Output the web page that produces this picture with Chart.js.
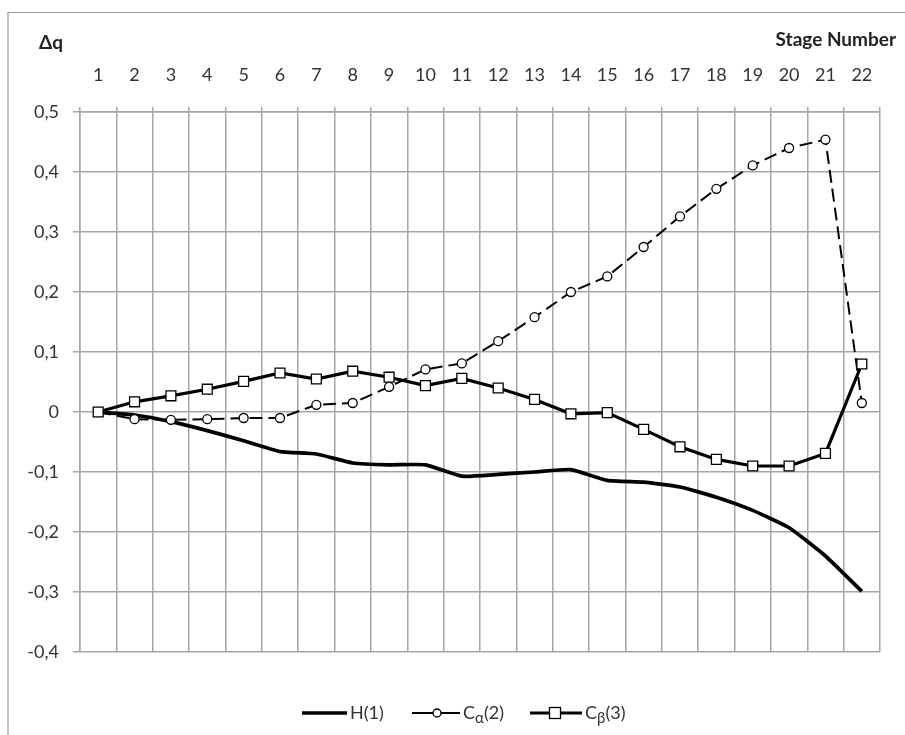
<!DOCTYPE html>
<html>
<head>
<meta charset="utf-8">
<script src="https://cdn.jsdelivr.net/npm/chart.js@4/dist/chart.umd.min.js"></script>
<style>
  html, body { margin: 0; padding: 0; background: #ffffff; }
  #wrap { width: 905px; height: 735px; position: relative; }
</style>
</head>
<body>
<div id="wrap"><canvas id="c" width="905" height="735"></canvas></div>
<script>
const stages = ['1','2','3','4','5','6','7','8','9','10','11','12','13','14','15','16','17','18','19','20','21','22'];
const seriesH = [0, -0.005, -0.016, -0.031, -0.048, -0.066, -0.07, -0.085, -0.088, -0.088, -0.107, -0.104, -0.1, -0.096, -0.114, -0.117, -0.125, -0.142, -0.164, -0.193, -0.24, -0.299];
const seriesCa = [0, -0.012, -0.013, -0.012, -0.01, -0.01, 0.012, 0.015, 0.042, 0.071, 0.081, 0.118, 0.158, 0.2, 0.226, 0.275, 0.326, 0.372, 0.411, 0.44, 0.454, 0.015];
const seriesCb = [0, 0.017, 0.027, 0.038, 0.051, 0.065, 0.055, 0.068, 0.058, 0.044, 0.056, 0.04, 0.021, -0.003, -0.001, -0.029, -0.058, -0.079, -0.09, -0.09, -0.069, 0.08];
const yTicks = [-0.4, -0.3, -0.2, -0.1, 0, 0.1, 0.2, 0.3, 0.4, 0.5];
const seriesNames = ['H(1)', 'Cα(2)', 'Cβ(3)'];

const FONT = 'Lato, "Open Sans", sans-serif';
const TEXT = '#333333';
const GRID = '#a6a6a6';

const decor = {
  id: 'decor',
  afterDraw(chart) {
    const ctx = chart.ctx;
    ctx.save();
    // frame (top and left)
    ctx.strokeStyle = '#9a9a9a';
    ctx.lineWidth = 1.2;
    ctx.beginPath();
    ctx.moveTo(8, 735); ctx.lineTo(8, 12.5); ctx.lineTo(905, 12.5);
    ctx.stroke();
    // axis titles
    ctx.fillStyle = '#222';
    ctx.font = 'bold 19px ' + FONT;
    ctx.textBaseline = 'middle';
    ctx.textAlign = 'left';
    ctx.fillText('Δq', 39, 43);
    ctx.textAlign = 'right';
    ctx.fillText('Stage Number', 896, 40);

    // legend
    const y = 713;
    ctx.textAlign = 'left';
    ctx.fillStyle = TEXT;
    const mainFont = '18px ' + FONT;
    const subFont = '15px ' + FONT;
    function drawName(name, x) {
      if (name.length > 1 && /[αβ]/.test(name[1])) {
        ctx.font = mainFont;
        ctx.fillText(name[0], x, y);
        x += ctx.measureText(name[0]).width;
        ctx.font = subFont;
        ctx.fillText(name[1], x, y + 5);
        x += ctx.measureText(name[1]).width;
        ctx.font = mainFont;
        ctx.fillText(name.slice(2), x, y);
      } else {
        ctx.font = mainFont;
        ctx.fillText(name, x, y);
      }
    }
    // H(1)
    ctx.strokeStyle = '#000'; ctx.lineWidth = 3.5; ctx.setLineDash([]);
    ctx.beginPath(); ctx.moveTo(302, y); ctx.lineTo(347, y); ctx.stroke();
    drawName(seriesNames[0], 350);
    // Ca
    ctx.strokeStyle = '#000'; ctx.lineWidth = 2;
    ctx.beginPath(); ctx.moveTo(412, y); ctx.lineTo(460, y); ctx.stroke();
    ctx.fillStyle = '#fff'; ctx.lineWidth = 1.3;
    ctx.beginPath(); ctx.arc(437, y, 4, 0, Math.PI * 2); ctx.fill(); ctx.stroke();
    ctx.fillStyle = TEXT;
    drawName(seriesNames[1], 463);
    // Cb
    ctx.strokeStyle = '#000'; ctx.lineWidth = 3;
    ctx.beginPath(); ctx.moveTo(530, y); ctx.lineTo(582, y); ctx.stroke();
    ctx.fillStyle = '#fff'; ctx.lineWidth = 1.3;
    ctx.fillRect(549.5, y - 5.5, 11, 11); ctx.strokeRect(549.5, y - 5.5, 11, 11);
    ctx.fillStyle = TEXT;
    drawName(seriesNames[2], 585);
    ctx.restore();
  }
};

new Chart(document.getElementById('c'), {
  type: 'line',
  data: {
    labels: stages,
    datasets: [
      {
        label: seriesNames[0], data: seriesH,
        borderColor: '#000', borderWidth: 3.7, pointRadius: 0, tension: 0.15, order: 3
      },
      {
        label: seriesNames[1], data: seriesCa,
        borderColor: '#000', borderWidth: 2, borderDash: [13, 6],
        pointStyle: 'circle', pointRadius: 4.5, pointBorderWidth: 1.3,
        pointBackgroundColor: '#fff', pointBorderColor: '#000', tension: 0, order: 2
      },
      {
        label: seriesNames[2], data: seriesCb,
        borderColor: '#000', borderWidth: 3.2,
        pointStyle: 'rect', pointRadius: 7, pointBorderWidth: 1.3,
        pointBackgroundColor: '#fff', pointBorderColor: '#000', tension: 0, order: 1
      }
    ]
  },
  options: {
    responsive: false,
    animation: false,
    devicePixelRatio: 1,
    layout: { padding: { left: 0, right: 25, top: 0, bottom: 83 } },
    plugins: { legend: { display: false }, tooltip: { enabled: false }, title: { display: false } },
    scales: {
      x: {
        type: 'category',
        position: 'top',
        offset: true,
        grid: { offset: true, color: GRID, lineWidth: 1.5, tickLength: 5, drawTicks: true },
        border: { color: GRID, width: 1.5 },
        ticks: { color: TEXT, font: { family: FONT, size: 18 }, padding: 21, maxRotation: 0, autoSkip: false },
        afterFit(s) { s.height = 112; }
      },
      y: {
        min: -0.4, max: 0.5,
        afterBuildTicks(s) { s.ticks = yTicks.map(v => ({ value: v })); },
        grid: { color: GRID, lineWidth: 1.5, tickLength: 7 },
        border: { color: GRID, width: 1.5 },
        ticks: {
          color: TEXT, font: { family: FONT, size: 18 }, padding: 14,
          callback: v => (Math.abs(v) < 1e-9 ? '0' : (Math.round(v * 10) / 10).toFixed(1).replace('.', ','))
        },
        afterFit(s) { s.width = 80; }
      }
    }
  },
  plugins: [decor]
});
</script>
</body>
</html>
